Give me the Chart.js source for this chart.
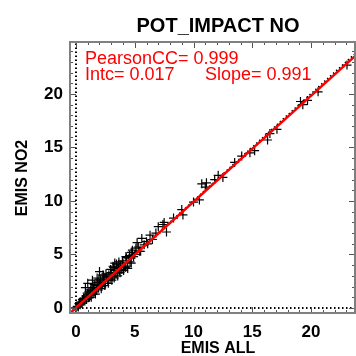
<!DOCTYPE html>
<html>
<head>
<meta charset="utf-8">
<script src="https://cdn.jsdelivr.net/npm/chart.js@4.4.1/dist/chart.umd.min.js"></script>
<style>
  html, body { margin: 0; padding: 0; background: #fff; }
  #wrap { width: 356px; height: 356px; position: relative; }
</style>
</head>
<body>
<div id="wrap"><canvas id="chart" width="356" height="356"></canvas></div>
<script>
// =====================================
// DATA
// =====================================
const TITLE = "POT_IMPACT NO";
const X_TITLE = "EMIS ALL";
const Y_TITLE = "EMIS NO2";
const STATS_LINE1 = "PearsonCC= 0.999";
const STATS_INTC = "Intc= 0.017";
const STATS_SLOPE = "Slope= 0.991";

// axis ranges
const X_RANGE = [-0.51, 23.74];
const Y_RANGE = [-0.47, 24.86];
const X_TICKS = [0, 5, 10, 15, 20];
const Y_TICKS = [0, 5, 10, 15, 20];

// scatter points (EMIS ALL vs EMIS NO2)
const EMIS_ALL = [
    0.0, 0.1, 0.2, 0.25, 0.35, 0.4, 0.5, 0.55, 0.6, 0.7, 0.75, 0.85, 0.9, 1.0, 1.05,
    1.1, 1.2, 1.25, 1.3, 1.4, 1.45, 1.5, 1.6, 1.7, 1.75, 1.85, 1.9, 2.0, 2.1, 2.2,
    2.3, 2.4, 2.5, 2.6, 2.7, 2.8, 2.9, 3.0, 3.1, 3.3, 3.4, 3.5, 3.7, 3.8, 3.9,
    4.0, 4.1, 4.5, 4.6, 5.0, 5.4, 5.8, 6.0, 6.5, 0.8, 1.0, 1.4, 1.8, 2.0, 2.3,
    3.2, 3.3, 3.6, 4.2, 4.4, 4.3, 4.8, 4.7, 4.9, 5.2, 5.3, 5.6, 6.3, 6.8, 7.0,
    7.4, 7.7, 7.5, 8.3, 9.0, 9.1, 10.0, 10.5, 10.7, 11.0, 11.1, 11.8, 12.1, 12.5, 13.5,
    14.1, 14.8, 15.2, 16.3, 16.5, 17.1, 19.1, 19.3, 19.7, 20.6, 23.06,
    0.3, 0.65, 0.95, 1.15, 1.35, 1.55, 1.65, 1.95, 2.15, 2.35, 2.45, 2.55, 2.75, 2.95, 3.05,
    3.15, 3.25, 3.45, 3.55, 3.65, 3.75, 3.95, 4.05, 4.25, 4.35, 4.55, 4.7, 5.1, 5.5, 6.1
];
const EMIS_NO2 = [
    0.0, 0.15, 0.1, 0.4, 0.3, 0.55, 0.45, 0.8, 0.6, 0.9, 0.65, 1.1, 0.8, 1.3, 0.95,
    1.5, 1.2, 1.7, 1.0, 1.6, 1.3, 1.9, 1.5, 2.1, 1.7, 2.4, 1.9, 2.2, 2.6, 2.0,
    2.5, 2.8, 2.3, 2.9, 2.6, 3.1, 2.7, 3.3, 2.9, 3.5, 3.2, 3.7, 3.5, 4.0, 3.6,
    4.2, 3.9, 4.6, 4.3, 5.0, 5.3, 5.9, 6.2, 6.4, 1.9, 2.3, 2.6, 2.8, 3.4, 3.1,
    3.8, 4.2, 3.8, 3.8, 3.7, 4.7, 5.4, 5.2, 4.8, 6.1, 5.7, 6.5, 6.8, 7.0, 7.6,
    7.8, 7.1, 8.0, 8.4, 9.2, 8.7, 9.9, 10.1, 11.6, 11.3, 11.7, 12.0, 12.4, 12.2, 13.6,
    14.2, 14.5, 14.7, 15.7, 16.3, 16.7, 19.3, 19.0, 19.4, 20.2, 22.7,
    0.5, 0.9, 1.4, 1.0, 1.9, 2.2, 1.3, 2.7, 1.8, 3.0, 2.1, 3.2, 2.3, 3.6, 2.6,
    3.9, 2.8, 4.1, 3.0, 4.3, 3.3, 4.4, 3.5, 4.8, 3.9, 4.9, 4.2, 5.6, 5.3, 6.0
];

// fitted line end points and 1:1 line end points
const FIT_X = [-0.51, 23.74];
const FIT_Y = [-0.49, 23.54];
const ONE_X = [-0.51, 24.86];
const ONE_Y = [-0.51, 24.86];

// =====================================
// STYLE
// =====================================
const FONT = "'Liberation Sans', Arial, sans-serif";
const AXIS_GRAY = "#808080";

function pairs(xs, ys) {
    return xs.map((x, i) => ({ x: x, y: ys[i] }));
}

// frame, inward ticks and texts
const framePlugin = {
    id: "frame",
    afterDraw(chart) {
        const ctx = chart.ctx;
        const a = chart.chartArea;
        const xs = chart.scales.x;
        const ys = chart.scales.y;
        ctx.save();

        // ticks
        ctx.strokeStyle = "#555";
        ctx.lineWidth = 1;
        ctx.beginPath();
        for (let v = Math.ceil(X_RANGE[0]); v <= X_RANGE[1]; v++) {
            const px = Math.round(xs.getPixelForValue(v)) + 0.5;
            const len = (v % 5 === 0) ? 6 : 3;
            ctx.moveTo(px, a.bottom); ctx.lineTo(px, a.bottom - len);
            ctx.moveTo(px, a.top); ctx.lineTo(px, a.top + len);
        }
        for (let v = Math.ceil(Y_RANGE[0]); v <= Y_RANGE[1]; v++) {
            const py = Math.round(ys.getPixelForValue(v)) + 0.5;
            const len = (v % 5 === 0) ? 6 : 3;
            ctx.moveTo(a.left, py); ctx.lineTo(a.left + len, py);
            ctx.moveTo(a.right, py); ctx.lineTo(a.right - len, py);
        }
        ctx.stroke();

        // frame
        ctx.strokeStyle = AXIS_GRAY;
        ctx.lineWidth = 2;
        ctx.strokeRect(a.left, a.top, a.right - a.left, a.bottom - a.top);

        // title
        ctx.fillStyle = "#000";
        ctx.textAlign = "center";
        ctx.textBaseline = "middle";
        ctx.font = "bold 20px " + FONT;
        ctx.fillText(TITLE, 218, 26);

        // axis titles
        ctx.font = "bold 16px " + FONT;
        ctx.fillText(X_TITLE, 218, 349);
        ctx.save();
        ctx.translate(23, 178);
        ctx.rotate(-Math.PI / 2);
        ctx.fillText(Y_TITLE, 0, 0);
        ctx.restore();

        // statistics
        ctx.fillStyle = "#ff0000";
        ctx.textAlign = "left";
        ctx.font = "18px " + FONT;
        ctx.fillText(STATS_LINE1, 85, 59);
        ctx.fillText(STATS_INTC, 85, 75);
        ctx.fillText(STATS_SLOPE, 205, 75);

        ctx.restore();
    }
};

// =====================================
// CHART
// =====================================
const ctx = document.getElementById("chart").getContext("2d");

new Chart(ctx, {
    type: "scatter",
    data: {
        datasets: [
            {
                label: "fit",
                data: pairs(FIT_X, FIT_Y),
                showLine: true,
                borderColor: "#ff0000",
                borderWidth: 2.5,
                pointRadius: 0,
                order: 0
            },
            {
                label: "1:1",
                data: pairs(ONE_X, ONE_Y),
                showLine: true,
                borderColor: "#000",
                borderWidth: 2,
                borderDash: [1.5, 2.5],
                pointRadius: 0,
                order: 1
            },
            {
                label: "points",
                data: pairs(EMIS_ALL, EMIS_NO2),
                pointStyle: "cross",
                pointRadius: 4.5,
                borderColor: "#000",
                backgroundColor: "#000",
                borderWidth: 1.2,
                order: 2
            },
            {
                label: "x0",
                data: [{ x: 0, y: Y_RANGE[0] }, { x: 0, y: Y_RANGE[1] }],
                showLine: true,
                borderColor: "#000",
                borderWidth: 2,
                borderDash: [1.5, 2.5],
                pointRadius: 0,
                order: 3
            },
            {
                label: "y0",
                data: [{ x: X_RANGE[0], y: 0 }, { x: X_RANGE[1], y: 0 }],
                showLine: true,
                borderColor: "#000",
                borderWidth: 2,
                borderDash: [1.5, 2.5],
                pointRadius: 0,
                order: 3
            }
        ]
    },
    options: {
        responsive: false,
        animation: false,
        layout: { autoPadding: false, padding: { top: 42, right: 1, left: 0, bottom: 0 } },
        plugins: {
            legend: { display: false },
            tooltip: { enabled: false }
        },
        scales: {
            x: {
                type: "linear",
                min: X_RANGE[0],
                max: X_RANGE[1],
                afterBuildTicks: s => { s.ticks = X_TICKS.map(v => ({ value: v })); },
                afterFit: s => { s.height = 43; },
                grid: { display: false, drawTicks: false },
                border: { display: false },
                ticks: {
                    color: "#000",
                    padding: 9,
                    maxRotation: 0,
                    font: { family: FONT, size: 17, weight: "bold" }
                }
            },
            y: {
                type: "linear",
                min: Y_RANGE[0],
                max: Y_RANGE[1],
                afterBuildTicks: s => { s.ticks = Y_TICKS.map(v => ({ value: v })); },
                afterFit: s => { s.width = 70; },
                grid: { display: false, drawTicks: false },
                border: { display: false },
                ticks: {
                    color: "#000",
                    padding: 7,
                    font: { family: FONT, size: 17, weight: "bold" }
                }
            }
        }
    },
    plugins: [framePlugin]
});
</script>
</body>
</html>
